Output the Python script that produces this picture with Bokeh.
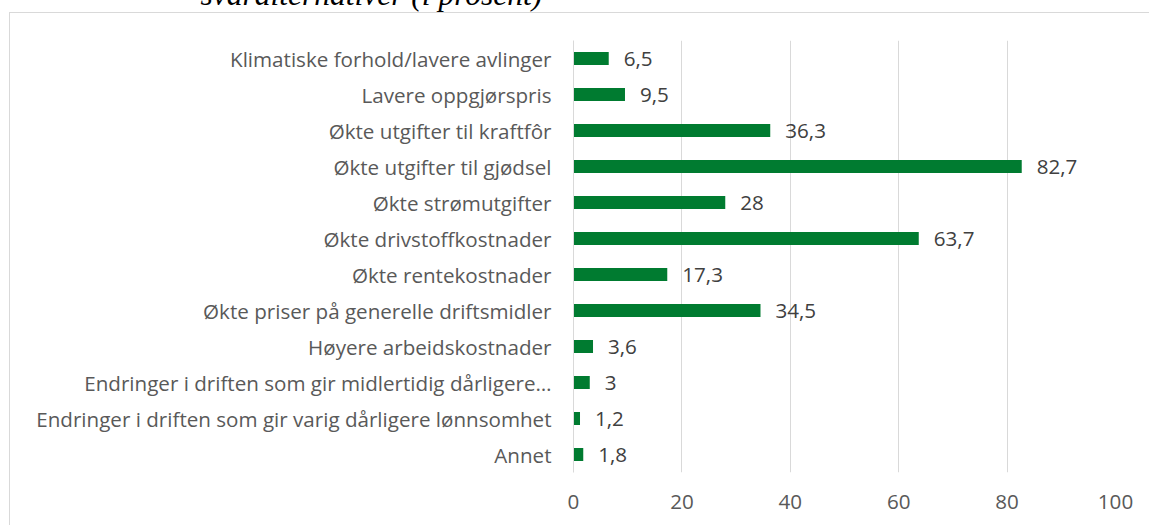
from bokeh.plotting import figure
from bokeh.models import FactorRange, FixedTicker, Label
from bokeh.core.properties import value
from bokeh.embed import file_html
from bokeh.resources import INLINE

categories = [
    "Klimatiske forhold/lavere avlinger",
    "Lavere oppgjørspris",
    "Økte utgifter til kraftfôr",
    "Økte utgifter til gjødsel",
    "Økte strømutgifter",
    "Økte drivstoffkostnader",
    "Økte rentekostnader",
    "Økte priser på generelle driftsmidler",
    "Høyere arbeidskostnader",
    "Endringer i driften som gir midlertidig dårligere…",
    "Endringer i driften som gir varig dårligere lønnsomhet",
    "Annet",
]
values = [6.5, 9.5, 36.3, 82.7, 28, 63.7, 17.3, 34.5, 3.6, 3, 1.2, 1.8]
x_ticks = [0, 20, 40, 60, 80, 100]
title_text = "svaralternativer (i prosent)"


def fmt(v):
    if float(v).is_integer():
        return str(int(v))
    return str(v).replace(".", ",")


value_labels = [fmt(v) for v in values]

FONT = "Open Sans"
FS = "20.6px"

p = figure(
    width=1149, height=525,
    y_range=FactorRange(factors=list(reversed(categories))),
    x_range=(0, 100),
    output_backend="svg", toolbar_location=None,
    min_border_left=573, min_border_right=34,
    min_border_top=40, min_border_bottom=53,
)
p.outline_line_color = None
p.background_fill_color = None
p.border_fill_color = None
p.styles = {
    "background": (
        "linear-gradient(#d9d9d9, #d9d9d9) 9px 12px / 1140px 1px no-repeat, "
        "linear-gradient(#d9d9d9, #d9d9d9) 9px 12px / 1px 513px no-repeat, "
        "white"
    )
}

p.hbar(y=categories, right=values, left=0, height=0.36,
       fill_color="#007b30", line_color=None)
p.text(x=values, y=categories, text=value_labels, x_offset=15,
       text_baseline="middle", text_align="left",
       text_font=value(FONT), text_font_size=FS, text_color="#404040")

p.xaxis.ticker = FixedTicker(ticks=x_ticks)
p.xaxis.axis_line_color = None
p.xaxis.major_tick_line_color = None
p.xaxis.minor_tick_line_color = None
p.xaxis.major_label_text_font = FONT
p.xaxis.major_label_text_font_size = FS
p.xaxis.major_label_text_color = "#595959"
p.xaxis.major_label_standoff = 16

p.yaxis.axis_line_color = "#d9d9d9"
p.yaxis.major_tick_line_color = None
p.yaxis.minor_tick_line_color = None
p.yaxis.major_tick_out = 0
p.yaxis.major_label_text_font = FONT
p.yaxis.major_label_text_font_size = FS
p.yaxis.major_label_text_color = "#595959"
p.yaxis.major_label_standoff = 22

p.xgrid.grid_line_color = "#d9d9d9"
p.xgrid.ticker = FixedTicker(ticks=x_ticks)
p.ygrid.grid_line_color = None

title = Label(x=200, y=-6, x_units="canvas", y_units="canvas", text=title_text,
              text_font="Liberation Serif", text_font_style="italic",
              text_font_size="31.5px", text_baseline="alphabetic",
              text_color="#000000", level="overlay")
p.add_layout(title, "above")

open("out.html", "w").write(file_html(p, INLINE))
